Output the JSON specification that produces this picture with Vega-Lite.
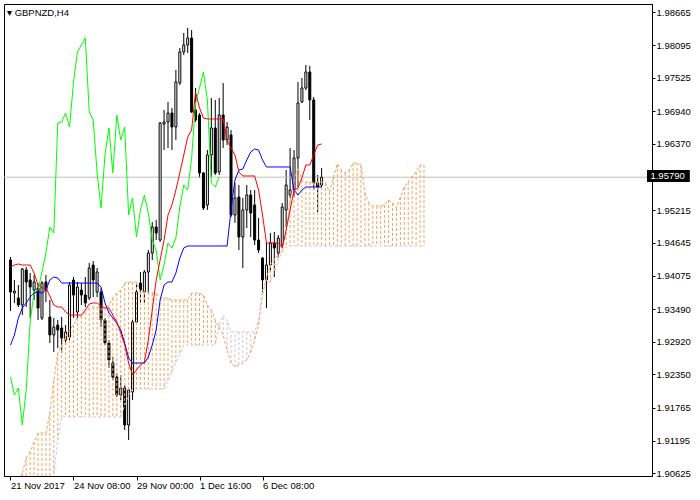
{
  "$schema": "https://vega.github.io/schema/vega-lite/v6.json",
  "width": 648,
  "height": 472,
  "autosize": {"type": "none"},
  "padding": {"left": 4, "top": 4, "right": 48, "bottom": 24},
  "background": "#ffffff",
  "config": {"view": {"stroke": "#000000", "strokeWidth": 1}, "font": "Liberation Sans"},
  "title": {"text": "▾ GBPNZD,H4", "anchor": "start", "frame": "group", "orient": "top", "offset": -13, "dx": 3, "fontSize": 9.5, "fontWeight": "normal", "font": "Liberation Sans", "color": "#000000"},
  "datasets": {
    "px": [{"price": 1.9579, "label": "1.95790"}],
    "k": [
      {"i":0,"o":1.94346,"h":1.94398,"l":1.93456,"c":1.93788,"tk":1.94224,"kj":1.92863},
      {"i":1,"o":1.93770,"h":1.93997,"l":1.93596,"c":1.93805,"tk":1.94258,"kj":1.93038},
      {"i":2,"o":1.93683,"h":1.93910,"l":1.93526,"c":1.93561,"tk":1.94276,"kj":1.93334},
      {"i":3,"o":1.93561,"h":1.94206,"l":1.93386,"c":1.94189,"tk":1.94258,"kj":1.93508},
      {"i":4,"o":1.94171,"h":1.94224,"l":1.93526,"c":1.93962,"tk":1.94258,"kj":1.93596},
      {"i":5,"o":1.93997,"h":1.94119,"l":1.93334,"c":1.93875,"tk":1.94258,"kj":1.93700},
      {"i":6,"o":1.93822,"h":1.94084,"l":1.93648,"c":1.93962,"tk":1.94119,"kj":1.93770},
      {"i":7,"o":1.93857,"h":1.93944,"l":1.93299,"c":1.93508,"tk":1.93910,"kj":1.93788},
      {"i":8,"o":1.93334,"h":1.93979,"l":1.93299,"c":1.93944,"tk":1.93857,"kj":1.93770},
      {"i":9,"o":1.93962,"h":1.94084,"l":1.93613,"c":1.93822,"tk":1.93857,"kj":1.93822},
      {"i":10,"o":1.93352,"h":1.93648,"l":1.92898,"c":1.93038,"tk":1.93718,"kj":1.93997},
      {"i":11,"o":1.93038,"h":1.93334,"l":1.92741,"c":1.93177,"tk":1.93561,"kj":1.94049},
      {"i":12,"o":1.93212,"h":1.93299,"l":1.92811,"c":1.93125,"tk":1.93526,"kj":1.94032},
      {"i":13,"o":1.93160,"h":1.93352,"l":1.92724,"c":1.92985,"tk":1.93526,"kj":1.93944},
      {"i":14,"o":1.92950,"h":1.93212,"l":1.92863,"c":1.93090,"tk":1.93439,"kj":1.93944},
      {"i":15,"o":1.93003,"h":1.93962,"l":1.92950,"c":1.93910,"tk":1.93386,"kj":1.93944},
      {"i":16,"o":1.93997,"h":1.94049,"l":1.93334,"c":1.93735,"tk":1.93386,"kj":1.93944},
      {"i":17,"o":1.93439,"h":1.93962,"l":1.93299,"c":1.93875,"tk":1.93386,"kj":1.93944},
      {"i":18,"o":1.93822,"h":1.93944,"l":1.93561,"c":1.93735,"tk":1.93386,"kj":1.93944},
      {"i":19,"o":1.93735,"h":1.94049,"l":1.93526,"c":1.93596,"tk":1.93474,"kj":1.93944},
      {"i":20,"o":1.93683,"h":1.94293,"l":1.93648,"c":1.94206,"tk":1.93578,"kj":1.93944},
      {"i":21,"o":1.94258,"h":1.94328,"l":1.93700,"c":1.93997,"tk":1.93596,"kj":1.93944},
      {"i":22,"o":1.93788,"h":1.94206,"l":1.93700,"c":1.94136,"tk":1.93596,"kj":1.93944},
      {"i":23,"o":1.93788,"h":1.93857,"l":1.93177,"c":1.93299,"tk":1.93543,"kj":1.93875},
      {"i":24,"o":1.93299,"h":1.93334,"l":1.92863,"c":1.92898,"tk":1.93508,"kj":1.93596},
      {"i":25,"o":1.92898,"h":1.92950,"l":1.92462,"c":1.92602,"tk":1.93508,"kj":1.93421},
      {"i":26,"o":1.92549,"h":1.92654,"l":1.92253,"c":1.92305,"tk":1.93386,"kj":1.93334},
      {"i":27,"o":1.92305,"h":1.92375,"l":1.91956,"c":1.91991,"tk":1.93264,"kj":1.93247},
      {"i":28,"o":1.91991,"h":1.92340,"l":1.91904,"c":1.92113,"tk":1.93072,"kj":1.93125},
      {"i":29,"o":1.92113,"h":1.92166,"l":1.91381,"c":1.91468,"tk":1.92863,"kj":1.92898},
      {"i":30,"o":1.91468,"h":1.92113,"l":1.91206,"c":1.92078,"tk":1.92549,"kj":1.92637},
      {"i":31,"o":1.92044,"h":1.93299,"l":1.91904,"c":1.93264,"tk":1.92340,"kj":1.92549},
      {"i":32,"o":1.93264,"h":1.93962,"l":1.93212,"c":1.93788,"tk":1.92427,"kj":1.92549},
      {"i":33,"o":1.93944,"h":1.94136,"l":1.93613,"c":1.93822,"tk":1.92514,"kj":1.92549},
      {"i":34,"o":1.93788,"h":1.94171,"l":1.93596,"c":1.94136,"tk":1.92567,"kj":1.92549},
      {"i":35,"o":1.94136,"h":1.94520,"l":1.93770,"c":1.94468,"tk":1.92950,"kj":1.92654},
      {"i":36,"o":1.94468,"h":1.95008,"l":1.94346,"c":1.94921,"tk":1.93474,"kj":1.92863},
      {"i":37,"o":1.94921,"h":1.95043,"l":1.94694,"c":1.94816,"tk":1.93997,"kj":1.93125},
      {"i":38,"o":1.94694,"h":1.96752,"l":1.94660,"c":1.96735,"tk":1.94346,"kj":1.93648},
      {"i":39,"o":1.96717,"h":1.96962,"l":1.96264,"c":1.96752,"tk":1.94694,"kj":1.93910},
      {"i":40,"o":1.96752,"h":1.97101,"l":1.96299,"c":1.96909,"tk":1.95130,"kj":1.93962},
      {"i":41,"o":1.96909,"h":1.96997,"l":1.96264,"c":1.96665,"tk":1.95305,"kj":1.93962},
      {"i":42,"o":1.96665,"h":1.97659,"l":1.96438,"c":1.97450,"tk":1.95566,"kj":1.94119},
      {"i":43,"o":1.97433,"h":1.98043,"l":1.97398,"c":1.97973,"tk":1.95863,"kj":1.94380},
      {"i":44,"o":1.97973,"h":1.98305,"l":1.97921,"c":1.98095,"tk":1.96177,"kj":1.94555},
      {"i":45,"o":1.98095,"h":1.98392,"l":1.97956,"c":1.98217,"tk":1.96491,"kj":1.94590},
      {"i":46,"o":1.98217,"h":1.98357,"l":1.96909,"c":1.96927,"tk":1.96613,"kj":1.94590},
      {"i":47,"o":1.96962,"h":1.97345,"l":1.96752,"c":1.96787,"tk":1.97276,"kj":1.94590},
      {"i":48,"o":1.96874,"h":1.96909,"l":1.95776,"c":1.95863,"tk":1.96997,"kj":1.94590},
      {"i":49,"o":1.95863,"h":1.95880,"l":1.95218,"c":1.95252,"tk":1.96822,"kj":1.94590},
      {"i":50,"o":1.95305,"h":1.96264,"l":1.95218,"c":1.96177,"tk":1.96805,"kj":1.94590},
      {"i":51,"o":1.96177,"h":1.97171,"l":1.95793,"c":1.96648,"tk":1.96805,"kj":1.94590},
      {"i":52,"o":1.96648,"h":1.97136,"l":1.95828,"c":1.95863,"tk":1.96805,"kj":1.94590},
      {"i":53,"o":1.95880,"h":1.97171,"l":1.95828,"c":1.96874,"tk":1.96805,"kj":1.94590},
      {"i":54,"o":1.96874,"h":1.97433,"l":1.96299,"c":1.96438,"tk":1.96805,"kj":1.94590},
      {"i":55,"o":1.96438,"h":1.96752,"l":1.96351,"c":1.96665,"tk":1.96438,"kj":1.94590},
      {"i":56,"o":1.96526,"h":1.96613,"l":1.95096,"c":1.95130,"tk":1.96299,"kj":1.95218},
      {"i":57,"o":1.95130,"h":1.95689,"l":1.94991,"c":1.95427,"tk":1.96177,"kj":1.95741},
      {"i":58,"o":1.95444,"h":1.95654,"l":1.94520,"c":1.94747,"tk":1.95880,"kj":1.95915},
      {"i":59,"o":1.94747,"h":1.95427,"l":1.94206,"c":1.95218,"tk":1.95811,"kj":1.95933},
      {"i":60,"o":1.95218,"h":1.95654,"l":1.94904,"c":1.95479,"tk":1.95811,"kj":1.96090},
      {"i":61,"o":1.95479,"h":1.95566,"l":1.94747,"c":1.95165,"tk":1.95811,"kj":1.96229},
      {"i":62,"o":1.95305,"h":1.95566,"l":1.94607,"c":1.94694,"tk":1.95811,"kj":1.96281},
      {"i":63,"o":1.94694,"h":1.95078,"l":1.94468,"c":1.94520,"tk":1.95566,"kj":1.96264},
      {"i":64,"o":1.94380,"h":1.94398,"l":1.93788,"c":1.93997,"tk":1.95130,"kj":1.96090},
      {"i":65,"o":1.93997,"h":1.94642,"l":1.93508,"c":1.94258,"tk":1.94642,"kj":1.95968},
      {"i":66,"o":1.94258,"h":1.94816,"l":1.94136,"c":1.94642,"tk":1.94642,"kj":1.95968},
      {"i":67,"o":1.94642,"h":1.94834,"l":1.94049,"c":1.94555,"tk":1.94642,"kj":1.95968},
      {"i":68,"o":1.94468,"h":1.94782,"l":1.94380,"c":1.94729,"tk":1.94642,"kj":1.95968},
      {"i":69,"o":1.94607,"h":1.95340,"l":1.94572,"c":1.95270,"tk":1.94555,"kj":1.95968},
      {"i":70,"o":1.95218,"h":1.95915,"l":1.94921,"c":1.95654,"tk":1.94869,"kj":1.95968},
      {"i":71,"o":1.95479,"h":1.96299,"l":1.95427,"c":1.95566,"tk":1.95218,"kj":1.95968},
      {"i":72,"o":1.95566,"h":1.96264,"l":1.95444,"c":1.96124,"tk":1.95566,"kj":1.95566},
      {"i":73,"o":1.96124,"h":1.97450,"l":1.95619,"c":1.97084,"tk":1.95601,"kj":1.95479},
      {"i":74,"o":1.97101,"h":1.97520,"l":1.97084,"c":1.97345,"tk":1.95776,"kj":1.95566},
      {"i":75,"o":1.97345,"h":1.97746,"l":1.97310,"c":1.97624,"tk":1.96002,"kj":1.95619},
      {"i":76,"o":1.97624,"h":1.97729,"l":1.96787,"c":1.97136,"tk":1.96002,"kj":1.95619},
      {"i":77,"o":1.97136,"h":1.97188,"l":1.95566,"c":1.95689,"tk":1.96177,"kj":1.95619},
      {"i":78,"o":1.95689,"h":1.95828,"l":1.95183,"c":1.95619,"tk":1.96351,"kj":1.95619},
      {"i":79,"o":1.95654,"h":1.95950,"l":1.95619,"c":1.95790,"tk":1.96369,"kj":1.95619}
    ],
    "ck": [
      {"i":0,"v":1.92305},{"i":1,"v":1.91991},{"i":2,"v":1.92113},{"i":3,"v":1.91468},{"i":4,"v":1.92078},
      {"i":5,"v":1.93264},{"i":6,"v":1.93788},{"i":7,"v":1.93822},{"i":8,"v":1.94136},{"i":9,"v":1.94468},
      {"i":10,"v":1.94921},{"i":11,"v":1.94816},{"i":12,"v":1.96735},{"i":13,"v":1.96752},{"i":14,"v":1.96909},
      {"i":15,"v":1.96665},{"i":16,"v":1.97450},{"i":17,"v":1.97973},{"i":18,"v":1.98095},{"i":19,"v":1.98217},
      {"i":20,"v":1.96927},{"i":21,"v":1.96787},{"i":22,"v":1.95863},{"i":23,"v":1.95252},{"i":24,"v":1.96177},
      {"i":25,"v":1.96648},{"i":26,"v":1.95863},{"i":27,"v":1.96874},{"i":28,"v":1.96438},{"i":29,"v":1.96665},
      {"i":30,"v":1.95130},{"i":31,"v":1.95427},{"i":32,"v":1.94747},{"i":33,"v":1.95218},{"i":34,"v":1.95479},
      {"i":35,"v":1.95165},{"i":36,"v":1.94694},{"i":37,"v":1.94520},{"i":38,"v":1.93997},{"i":39,"v":1.94258},
      {"i":40,"v":1.94642},{"i":41,"v":1.94555},{"i":42,"v":1.94729},{"i":43,"v":1.95270},{"i":44,"v":1.95654},
      {"i":45,"v":1.95566},{"i":46,"v":1.96124},{"i":47,"v":1.97084},{"i":48,"v":1.97345},{"i":49,"v":1.97624},
      {"i":50,"v":1.97136},{"i":51,"v":1.95689},{"i":52,"v":1.95619},{"i":53,"v":1.95790}
    ],
    "cl": [
      {"i":0,"a":1.90160,"b":1.90334},{"i":1,"a":1.90300,"b":1.90334},{"i":2,"a":1.90457,"b":1.90334},
      {"i":3,"a":1.90631,"b":1.90334},{"i":4,"a":1.90892,"b":1.90334},{"i":5,"a":1.90997,"b":1.90334},
      {"i":6,"a":1.91172,"b":1.90334},{"i":7,"a":1.91328,"b":1.90334},{"i":8,"a":1.91328,"b":1.90334},
      {"i":9,"a":1.91328,"b":1.90334},{"i":10,"a":1.91677,"b":1.90334},{"i":11,"a":1.92253,"b":1.90596},
      {"i":12,"a":1.92724,"b":1.91206},{"i":13,"a":1.92863,"b":1.91608},{"i":14,"a":1.93003,"b":1.91608},
      {"i":15,"a":1.93125,"b":1.91608},{"i":16,"a":1.93212,"b":1.91608},{"i":17,"a":1.93334,"b":1.91608},
      {"i":18,"a":1.93369,"b":1.91608},{"i":19,"a":1.93439,"b":1.91608},{"i":20,"a":1.93508,"b":1.91608},
      {"i":21,"a":1.93526,"b":1.91608},{"i":22,"a":1.93526,"b":1.91608},{"i":23,"a":1.93508,"b":1.91608},
      {"i":24,"a":1.93508,"b":1.91608},{"i":25,"a":1.93561,"b":1.91608},{"i":26,"a":1.93683,"b":1.91608},
      {"i":27,"a":1.93770,"b":1.91608},{"i":28,"a":1.93822,"b":1.91608},{"i":29,"a":1.93944,"b":1.91817},
      {"i":30,"a":1.93962,"b":1.91991},{"i":31,"a":1.93962,"b":1.92096},{"i":32,"a":1.93962,"b":1.92096},
      {"i":33,"a":1.93788,"b":1.92096},{"i":34,"a":1.93788,"b":1.92096},{"i":35,"a":1.93788,"b":1.92096},
      {"i":36,"a":1.93770,"b":1.92096},{"i":37,"a":1.93770,"b":1.92096},{"i":38,"a":1.93683,"b":1.92096},
      {"i":39,"a":1.93683,"b":1.92096},{"i":40,"a":1.93683,"b":1.92253},{"i":41,"a":1.93648,"b":1.92392},
      {"i":42,"a":1.93648,"b":1.92567},{"i":43,"a":1.93648,"b":1.92689},{"i":44,"a":1.93648,"b":1.92863},
      {"i":45,"a":1.93648,"b":1.92863},{"i":46,"a":1.93770,"b":1.92863},{"i":47,"a":1.93770,"b":1.92863},
      {"i":48,"a":1.93770,"b":1.92863},{"i":49,"a":1.93735,"b":1.92863},{"i":50,"a":1.93561,"b":1.92863},
      {"i":51,"a":1.93474,"b":1.92863},{"i":52,"a":1.93299,"b":1.92863},{"i":53,"a":1.93160,"b":1.93212},
      {"i":54,"a":1.93038,"b":1.93386},{"i":55,"a":1.92776,"b":1.93299},{"i":56,"a":1.92549,"b":1.93090},
      {"i":57,"a":1.92480,"b":1.93090},{"i":58,"a":1.92514,"b":1.93090},{"i":59,"a":1.92549,"b":1.93090},
      {"i":60,"a":1.92602,"b":1.93090},{"i":61,"a":1.92741,"b":1.93090},{"i":62,"a":1.92950,"b":1.93090},
      {"i":63,"a":1.93212,"b":1.93299},{"i":64,"a":1.93735,"b":1.93822},{"i":65,"a":1.94032,"b":1.93944},
      {"i":66,"a":1.94258,"b":1.93962},{"i":67,"a":1.94380,"b":1.94136},{"i":68,"a":1.94433,"b":1.94346},
      {"i":69,"a":1.94520,"b":1.94485},{"i":70,"a":1.94834,"b":1.94572},{"i":71,"a":1.95392,"b":1.94590},
      {"i":72,"a":1.95741,"b":1.94590},{"i":73,"a":1.95950,"b":1.94590},{"i":74,"a":1.95741,"b":1.94590},
      {"i":75,"a":1.95706,"b":1.94590},{"i":76,"a":1.95706,"b":1.94590},{"i":77,"a":1.95706,"b":1.94590},
      {"i":78,"a":1.95706,"b":1.94590},{"i":79,"a":1.95706,"b":1.94590},{"i":80,"a":1.95689,"b":1.94590},
      {"i":81,"a":1.95532,"b":1.94590},{"i":82,"a":1.95793,"b":1.94590},{"i":83,"a":1.96020,"b":1.94590},
      {"i":84,"a":1.95915,"b":1.94590},{"i":85,"a":1.95863,"b":1.94590},{"i":86,"a":1.95915,"b":1.94590},
      {"i":87,"a":1.96037,"b":1.94590},{"i":88,"a":1.96037,"b":1.94590},{"i":89,"a":1.96002,"b":1.94590},
      {"i":90,"a":1.95514,"b":1.94590},{"i":91,"a":1.95340,"b":1.94590},{"i":92,"a":1.95287,"b":1.94590},
      {"i":93,"a":1.95287,"b":1.94590},{"i":94,"a":1.95287,"b":1.94590},{"i":95,"a":1.95305,"b":1.94590},
      {"i":96,"a":1.95392,"b":1.94590},{"i":97,"a":1.95340,"b":1.94590},{"i":98,"a":1.95252,"b":1.94590},
      {"i":99,"a":1.95444,"b":1.94590},{"i":100,"a":1.95619,"b":1.94590},{"i":101,"a":1.95706,"b":1.94590},
      {"i":102,"a":1.95811,"b":1.94590},{"i":103,"a":1.95880,"b":1.94590},{"i":104,"a":1.96002,"b":1.94590},
      {"i":105,"a":1.96002,"b":1.94590}
    ]
  },
  "layer": [
    {
      "data": {"name": "k"},
      "mark": {"type": "rule", "color": "#000000", "strokeWidth": 1, "clip": true},
      "encoding": {
        "x": {"field": "i", "type": "quantitative", "title": null, "scale": {"domain": [-0.375, 161.625], "nice": false, "zero": false},
          "axis": {"values": [0, 16, 32, 48, 64], "tickCount": 50, "labelExpr": "datum.value == 0 ? '21 Nov 2017' : datum.value == 16 ? '24 Nov 08:00' : datum.value == 32 ? '29 Nov 00:00' : datum.value == 48 ? '1 Dec 16:00' : '6 Dec 08:00'", "labelAlign": "left", "labelFont": "Liberation Sans", "labelFontSize": 9.5, "labelColor": "#000000", "tickColor": "#000000", "tickSize": 4, "labelPadding": 0, "domainColor": "#000000", "grid": false, "labelFlush": false, "labelBound": false, "labelOverlap": false}},
        "y": {"field": "l", "type": "quantitative", "title": null, "scale": {"domain": [1.90579, 1.98810], "nice": false, "zero": false},
          "axis": {"orient": "right", "values": [1.98665, 1.98095, 1.97525, 1.9694, 1.9637, 1.95215, 1.94645, 1.94075, 1.9349, 1.9292, 1.9235, 1.91765, 1.91195, 1.90625], "tickCount": 50, "format": ".5f", "labelFont": "Liberation Sans", "labelFontSize": 9.5, "labelColor": "#000000", "tickColor": "#000000", "tickSize": 3, "labelPadding": 1, "domainColor": "#000000", "grid": false, "labelBound": false, "labelOverlap": false, "labelFlush": false}},
        "y2": {"field": "h"}
      }
    },
    {
      "data": {"name": "px"},
      "mark": {"type": "rule", "color": "#C0C0C0", "strokeWidth": 1, "clip": true},
      "encoding": {
        "y": {"field": "price", "type": "quantitative", "title": null, "scale": {"domain": [1.90579, 1.98810], "nice": false, "zero": false}}
      }
    },
    {
      "data": {"name": "k"},
      "mark": {"type": "bar", "width": 2, "stroke": "#000000", "strokeWidth": 1, "clip": true},
      "encoding": {
        "x": {"field": "i", "type": "quantitative", "title": null, "scale": {"domain": [-0.375, 161.625], "nice": false, "zero": false}},
        "y": {"field": "o", "type": "quantitative", "title": null, "scale": {"domain": [1.90579, 1.98810], "nice": false, "zero": false}},
        "y2": {"field": "c"},
        "fill": {"condition": {"test": "datum.c >= datum.o", "value": "#ffffff"}, "value": "#000000"}
      }
    },
    {
      "data": {"name": "cl"},
      "mark": {"type": "rule", "strokeDash": [3, 2], "strokeWidth": 1, "clip": true},
      "encoding": {
        "x": {"field": "i", "type": "quantitative", "title": null, "scale": {"domain": [-0.375, 161.625], "nice": false, "zero": false}},
        "y": {"field": "a", "type": "quantitative", "title": null, "scale": {"domain": [1.90579, 1.98810], "nice": false, "zero": false}},
        "y2": {"field": "b"},
        "color": {"condition": {"test": "datum.a >= datum.b", "value": "#F4A460"}, "value": "#D8BFD8"}
      }
    },
    {
      "data": {"name": "cl"},
      "mark": {"type": "line", "color": "#F4A460", "strokeDash": [3, 2], "strokeWidth": 1, "clip": true},
      "encoding": {
        "x": {"field": "i", "type": "quantitative", "title": null, "scale": {"domain": [-0.375, 161.625], "nice": false, "zero": false}},
        "y": {"field": "a", "type": "quantitative", "title": null, "scale": {"domain": [1.90579, 1.98810], "nice": false, "zero": false}}
      }
    },
    {
      "data": {"name": "cl"},
      "mark": {"type": "line", "color": "#D8BFD8", "strokeDash": [3, 2], "strokeWidth": 1, "clip": true},
      "encoding": {
        "x": {"field": "i", "type": "quantitative", "title": null, "scale": {"domain": [-0.375, 161.625], "nice": false, "zero": false}},
        "y": {"field": "b", "type": "quantitative", "title": null, "scale": {"domain": [1.90579, 1.98810], "nice": false, "zero": false}}
      }
    },
    {
      "data": {"name": "ck"},
      "mark": {"type": "line", "color": "#00FF00", "strokeWidth": 1, "clip": true},
      "encoding": {
        "x": {"field": "i", "type": "quantitative", "title": null, "scale": {"domain": [-0.375, 161.625], "nice": false, "zero": false}},
        "y": {"field": "v", "type": "quantitative", "title": null, "scale": {"domain": [1.90579, 1.98810], "nice": false, "zero": false}}
      }
    },
    {
      "data": {"name": "k"},
      "mark": {"type": "line", "color": "#0000FF", "strokeWidth": 1, "clip": true},
      "encoding": {
        "x": {"field": "i", "type": "quantitative", "title": null, "scale": {"domain": [-0.375, 161.625], "nice": false, "zero": false}},
        "y": {"field": "kj", "type": "quantitative", "title": null, "scale": {"domain": [1.90579, 1.98810], "nice": false, "zero": false}}
      }
    },
    {
      "data": {"name": "k"},
      "mark": {"type": "line", "color": "#FF0000", "strokeWidth": 1, "clip": true},
      "encoding": {
        "x": {"field": "i", "type": "quantitative", "title": null, "scale": {"domain": [-0.375, 161.625], "nice": false, "zero": false}},
        "y": {"field": "tk", "type": "quantitative", "title": null, "scale": {"domain": [1.90579, 1.98810], "nice": false, "zero": false}}
      }
    },
    {
      "data": {"name": "px"},
      "mark": {"type": "rect", "color": "#000000", "clip": false},
      "encoding": {
        "x": {"datum": 161.625, "type": "quantitative", "title": null, "scale": {"domain": [-0.375, 161.625], "nice": false, "zero": false}},
        "x2": {"datum": 172.5},
        "y": {"datum": 1.95915, "type": "quantitative", "title": null, "scale": {"domain": [1.90579, 1.98810], "nice": false, "zero": false}},
        "y2": {"datum": 1.95706}
      }
    },
    {
      "data": {"name": "px"},
      "mark": {"type": "text", "color": "#ffffff", "align": "left", "baseline": "middle", "font": "Liberation Sans", "fontSize": 9.5, "dy": -1, "clip": false},
      "encoding": {
        "x": {"datum": 162.5, "type": "quantitative", "title": null, "scale": {"domain": [-0.375, 161.625], "nice": false, "zero": false}},
        "y": {"field": "price", "type": "quantitative", "title": null, "scale": {"domain": [1.90579, 1.98810], "nice": false, "zero": false}},
        "text": {"field": "label"}
      }
    }
  ]
}
